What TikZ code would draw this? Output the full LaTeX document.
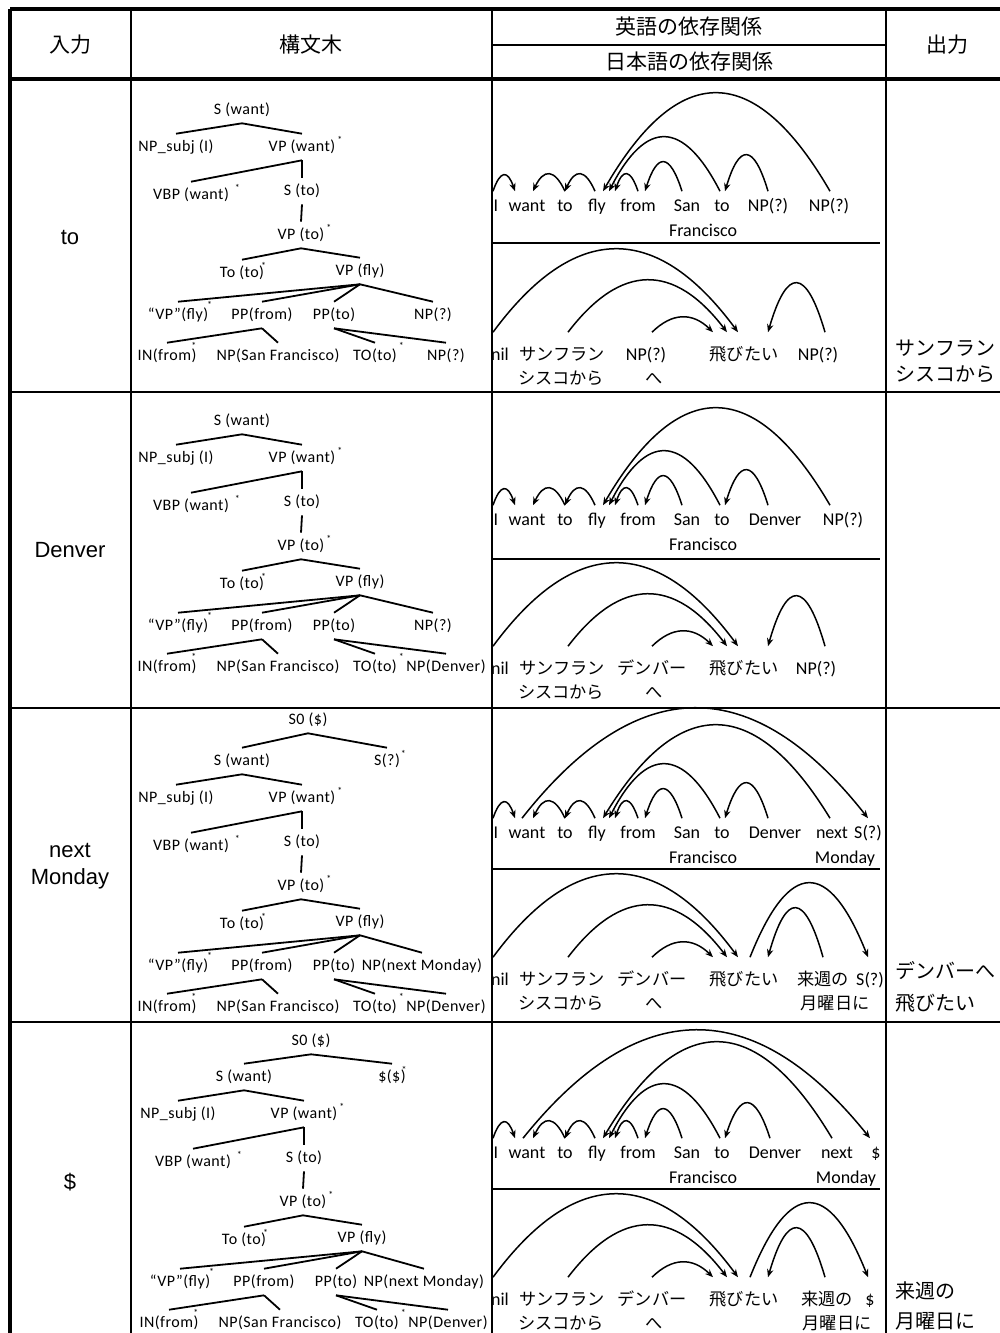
\documentclass[tikz,border=0pt]{standalone}
\usepackage{fontspec}
\setmainfont{Carlito}
\newfontfamily\treefont[LetterSpace=3]{Carlito}
\newfontfamily\jfont{Noto Sans CJK JP}
\newfontfamily\labelfont{Liberation Sans}
\usetikzlibrary{calc}
\usetikzlibrary{arrows.meta}
\tikzset{
	every path/.style={thick},
	frameline/.style={line width=1.6pt},
	rowline/.style={line width=1.1pt},
	tableline/.style={line width=0.8pt},
	tree/.style={
		font=\treefont\fontsize{8}{9}\selectfont,
		inner xsep=1pt, inner ysep=2.5pt,
		text height=6pt, text depth=1.5pt,
	},
	branch/.style={line width=0.9pt},
	word/.style={
		anchor=base,
		font=\fontsize{9}{10}\selectfont,
		inner sep=1.5pt,
		text height=8pt, text depth=2pt,
	},
	jword/.style={
		word,
		text height=12pt,
	},
	jp/.style={font=\jfont\fontsize{8.6}{10}\selectfont},
	dep/.style={
		line width=0.75pt,
		-{Stealth[length=4pt,width=3.2pt]}
	},
	heading/.style={font=\jfont\fontsize{10.5}{12}\selectfont},
	inlabel/.style={font=\labelfont\fontsize{11}{13.5}\selectfont, align=center},
	outlabel/.style={anchor=west, inner sep=0pt, font=\jfont\fontsize{10}{12}\selectfont},
}

% head mark of a constituent
\newcommand\st[2][1.1ex]{\rlap{\kern#2\raisebox{#1}{\tiny*}}}

% dependency arc: tail node, x offset, head node, x offset, height
\newcommand\dep[5]{%
	\path ($(#1.north)+(#2,0)$) coordinate (tail)
		($(#3.north)+(#4,0)$) coordinate (tip);
	\draw[dep] (tail) .. controls ($(tail)!1/3!(tip)+(0,-4*#5/3)$)
		and ($(tail)!2/3!(tip)+(0,-4*#5/3)$) .. (tip);
}

% parse tree below S (want)
\newcommand\wanttree[5]{%
	\begin{scope}[shift={(#1,#2)}]
		\node[tree] (swant)  at (0,0)     {S (want)};
		\node[tree] (subj)   at (-66,37)  {NP\_subj (I)};
		\node[tree] (vpwant) at (60,37)   {VP (want)\st{1pt}};
		\node[tree] (vbp)    at (-51,85)  {VBP (want)\st{3pt}};
		\node[tree] (sto)    at (60,81)   {S (to)};
		\node[tree] (vpto)   at (59,125)  {VP (to)\st{1pt}};
		\node[tree] (toto)   at (0,163)   {To (to)\st{-1.5pt}};
		\node[tree] (vpfly)  at (118,161) {VP (fly)};
		\node[tree] (vpq)    at (-64,205) {“VP”(fly)\st[1.4ex]{-0.5pt}};
		\node[tree] (ppfrom) at (20,205)  {PP(from)};
		\node[tree] (ppto)   at (92,205)  {PP(to)};
		\node[tree] (npx)    at (#3,205)  {#4};
		\node[tree] (infrom) at (-75,246) {IN(from)\st[1.5ex]{-2.5pt}};
		\node[tree] (npsf)   at (36,246)  {NP(San Francisco)};
		\node[tree] (toto2)  at (133,246) {TO(to)\st[1.4ex]{1pt}};
		\node[tree] (npy)    at (204,246) {#5};
		\foreach \p/\c in {swant/subj, swant/vpwant, vpwant/vbp, vpwant/sto,
			sto/vpto, vpto/toto, vpto/vpfly, vpfly/vpq, vpfly/ppfrom, vpfly/ppto,
			vpfly/npx, ppfrom/infrom, ppfrom/npsf, ppto/toto2, ppto/npy}
			\draw[branch] (\p.south) -- (\c.north);
	\end{scope}
}

% English words shared by every row
\newcommand\english[1]{%
	\foreach \n/\x/\w in {i/496/I, want/527/want, toa/565/to, fly/597/fly,
		from/638/from, san/687/San, tob/722/to}
		\node[word] (\n) at (\x,#1) {\w};
	\node[word] (fran) at (703,#1+25) {Francisco};
	\foreach \a/\da/\b/\db/\h in {i/-3/want/-12/16, toa/0/want/6/17,
		fly/-2/toa/0/17, from/0/fly/18/17, tob/-2/fly/12/54, san/-5/from/7/29}
		{\dep{\a}{\da}{\b}{\db}{\h}}
}

% Japanese words shared by every row
\newcommand\japanese[1]{%
	\node[jword]    (nil)  at (500,#1)    {nil};
	\node[jword,jp] (sf)   at (562,#1)    {サンフラン};
	\node[jword,jp] (sf2)  at (561,#1+24) {シスコから};
	\node[jword,jp] (tobi) at (744,#1)    {飛びたい};
	\dep{nil}{-7}{tobi}{-6}{83}
	\dep{sf}{6}{tobi}{-17}{52}
}

\begin{document}
\begin{tikzpicture}[x=0.5pt, y=-0.5pt]
	\useasboundingbox (0,0) rectangle (1000,1333);

	% table
	\draw[frameline] (10,9) -- (1000,9);
	\draw[frameline] (10,9) -- (10,1333);
	\draw[frameline] (10,79) -- (1000,79);
	\foreach \y in {392,708,1022}
		\draw[rowline] (10,\y) -- (1000,\y);
	\foreach \x in {131,492,886}
		\draw[tableline] (\x,9) -- (\x,1333);
	\draw[tableline] (492,45) -- (886,45);
	\foreach \y in {243,559,869,1189}
		\draw[tableline] (492,\y) -- (880,\y);

	\node[heading] (hin)   at (70,45)  {入力};
	\node[heading] (htree) at (311,45) {構文木};
	\node[heading] (hen)   at (689,27) {英語の依存関係};
	\node[heading] (hja)   at (689,62) {日本語の依存関係};
	\node[heading] (hout)  at (947,45) {出力};

	\node[inlabel] (in1) at (70,237)  {to};
	\node[inlabel] (in2) at (70,550)  {Denver};
	\node[inlabel] (in3) at (70,866)  {next\\Monday};
	\node[inlabel] (in4) at (70,1182) {\$};

%*********

	\wanttree{242}{110}{191}{NP(?)}{NP(?)}

	\english{211}
	\node[word] (npa) at (768,211) {NP(?)};
	\node[word] (npb) at (829,211) {NP(?)};
	\dep{npb}{1}{fly}{6}{98}
	\dep{npa}{0}{tob}{3}{36}

	\japanese{360}
	\node[jword]    (npq) at (646,360) {NP(?)};
	\node[jword,jp] (he)  at (654,384) {へ};
	\node[jword]    (npr) at (818,360) {NP(?)};
	\dep{npq}{6}{tobi}{-31}{15}
	\dep{npr}{7}{tobi}{24}{49}

	\node[outlabel] (outa) at (895,348) {サンフラン};
	\node[outlabel] (outb) at (895,374) {シスコから};

%*********

	\wanttree{242}{421}{191}{NP(?)}{NP(Denver)}

	\english{525}
	\node[word] (denver) at (775,525) {Denver};
	\node[word] (npb)    at (843,525) {NP(?)};
	\dep{npb}{-13}{fly}{6}{97}
	\dep{denver}{-7}{tob}{3}{35}

	\japanese{674}
	\node[jword,jp] (denba) at (652,674) {デンバー};
	\node[jword,jp] (he)    at (654,698) {へ};
	\node[jword]    (npr)   at (816,674) {NP(?)};
	\dep{denba}{0}{tobi}{-31}{15}
	\dep{npr}{9}{tobi}{24}{50}

%*********

	\wanttree{242}{761}{180}{NP(next Monday)}{NP(Denver)}
	\node[tree] (szero) at (308,720) {S0 (\$)};
	\node[tree] (sq)    at (387,761) {S(?)\st{0.5pt}};
	\draw[branch] (szero.south) -- (swant.north);
	\draw[branch] (szero.south) -- (sq.north);

	\english{838}
	\node[word] (denver) at (775,838) {Denver};
	\node[word] (next)   at (832,838) {next};
	\node[word] (monday) at (845,863) {Monday};
	\node[word] (send)   at (868,838) {S(?)};
	\dep{want}{-5}{send}{0}{110}
	\dep{next}{-2}{fly}{6}{93}
	\dep{denver}{-7}{tob}{3}{35}

	\japanese{985}
	\node[jword,jp] (denba)  at (652,985)  {デンバー};
	\node[jword,jp] (he)     at (654,1009) {へ};
	\node[jword,jp] (raishu) at (823,985)  {来週の};
	\node[jword,jp] (getsu)  at (835,1009) {月曜日に};
	\node[jword]    (jend)   at (870,985)  {S(?)};
	\dep{denba}{0}{tobi}{-31}{15}
	\dep{raishu}{0}{tobi}{24}{49}
	\dep{tobi}{6}{jend}{-2}{74}

	\node[outlabel] (outa) at (895,971)  {デンバーへ};
	\node[outlabel] (outb) at (895,1003) {飛びたい};

%*********

	\wanttree{244}{1077}{180}{NP(next Monday)}{NP(Denver)}
	\node[tree] (szero) at (311,1041) {S0 (\$)};
	\node[tree] (sq)    at (392,1077) {\$(\$)\st{-2pt}};
	\draw[branch] (szero.south) -- (swant.north);
	\draw[branch] (szero.south) -- (sq.north);

	\english{1158}
	\node[word] (denver) at (775,1158) {Denver};
	\node[word] (next)   at (837,1158) {next};
	\node[word] (monday) at (846,1183) {Monday};
	\node[word] (send)   at (876,1158) {\$};
	\dep{want}{-4}{send}{-6}{108}
	\dep{next}{-5}{fly}{6}{96}
	\dep{denver}{-5}{tob}{3}{35}

	\japanese{1305}
	\node[jword,jp] (denba)  at (652,1305) {デンバー};
	\node[jword,jp] (he)     at (654,1329) {へ};
	\node[jword,jp] (raishu) at (827,1305) {来週の};
	\node[jword,jp] (getsu)  at (837,1329) {月曜日に};
	\node[jword]    (jend)   at (870,1305) {\$};
	\dep{denba}{0}{tobi}{-31}{15}
	\dep{raishu}{-2}{tobi}{24}{49}
	\dep{tobi}{6}{jend}{-2}{74}

	\node[outlabel] (outa) at (895,1291) {来週の};
	\node[outlabel] (outb) at (895,1321) {月曜日に};

\end{tikzpicture}
\end{document}
